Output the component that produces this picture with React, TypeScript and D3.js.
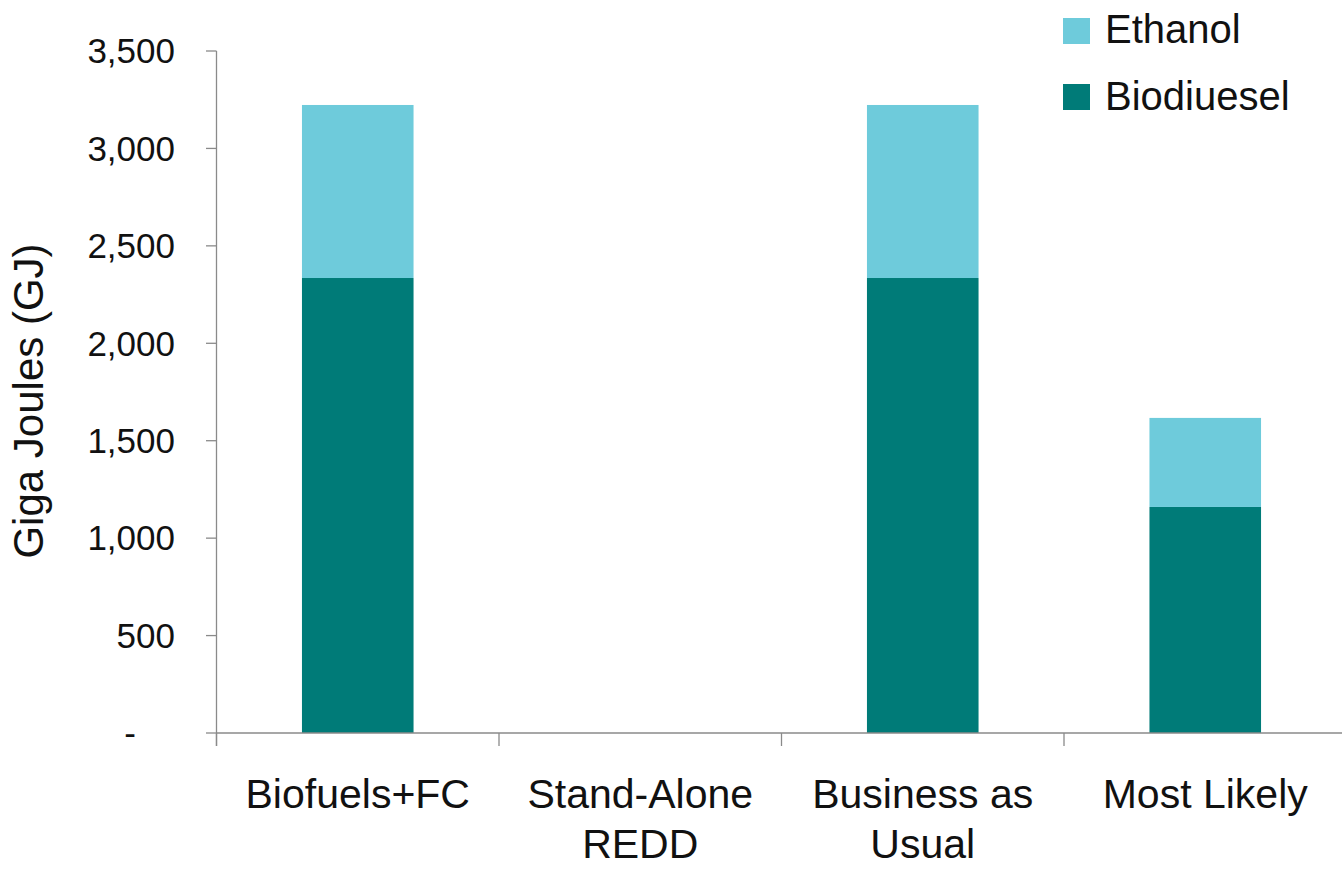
import React from "react";
import * as d3 from "d3";

const categories: string[][] = [
  ["Biofuels+FC"],
  ["Stand-Alone", "REDD"],
  ["Business as", "Usual"],
  ["Most Likely"],
];
const categoryKeys = ["Biofuels+FC", "Stand-Alone REDD", "Business as Usual", "Most Likely"];
const biodiesel = [2335, 0, 2335, 1160];
const ethanol = [888, 0, 888, 457];
const yTicks = [0, 500, 1000, 1500, 2000, 2500, 3000, 3500];
const yTickLabels = ["-", "500", "1,000", "1,500", "2,000", "2,500", "3,000", "3,500"];
const seriesNames = ["Ethanol", "Biodiuesel"];
const seriesColors = ["#6ECBDB", "#007B78"];

const W = 1342;
const H = 869;
const FONT = "'Liberation Sans', Arial, Helvetica, sans-serif";

export default function App() {
  const x = d3.scaleBand<string>().domain(categoryKeys).range([216.5, 1346.5]).paddingInner(0).paddingOuter(0);
  const y = d3.scaleLinear().domain([0, 3500]).range([733, 51]);
  const barW = x.bandwidth() * 0.395;
  const axisColor = "#8a8a8a";

  return (
    <svg width={W} height={H} style={{ position: "absolute", left: 0, top: 0, background: "#fff" }}>
      <rect x={0} y={0} width={W} height={H} fill="#fff" />
      {categoryKeys.map((k, i) => {
        const cx = (x(k) as number) + x.bandwidth() / 2;
        const b = biodiesel[i];
        const e = ethanol[i];
        return (
          <g key={k}>
            {b > 0 && (
              <rect x={cx - barW / 2} y={y(b)} width={barW} height={y(0) - y(b)} fill={seriesColors[1]} />
            )}
            {e > 0 && (
              <rect x={cx - barW / 2} y={y(b + e)} width={barW} height={y(b) - y(b + e)} fill={seriesColors[0]} />
            )}
          </g>
        );
      })}
      <line x1={216.5} x2={216.5} y1={y(3500)} y2={746} stroke={axisColor} strokeWidth={1.3} />
      {yTicks.map((t, i) => (
        <g key={t}>
          <line x1={206} x2={216.5} y1={y(t)} y2={y(t)} stroke={axisColor} strokeWidth={1.3} />
          <text
            x={t === 0 ? 136 : 175}
            y={y(t)}
            dy="0.35em"
            textAnchor="end"
            fontFamily={FONT}
            fontSize={35}
            fill="#111"
          >
            {yTickLabels[i]}
          </text>
        </g>
      ))}
      <line x1={216.5} x2={W} y1={y(0)} y2={y(0)} stroke={axisColor} strokeWidth={1.3} />
      {categoryKeys.map((k) => (
        <line key={k} x1={x(k) as number} x2={x(k) as number} y1={y(0)} y2={746} stroke={axisColor} strokeWidth={1.3} />
      ))}
      {categories.map((lines, i) => {
        const cx = (x(categoryKeys[i]) as number) + x.bandwidth() / 2;
        return (
          <text key={i} textAnchor="middle" fontFamily={FONT} fontSize={41} fill="#111">
            {lines.map((ln, j) => (
              <tspan key={j} x={cx} y={808 + j * 50}>
                {ln}
              </tspan>
            ))}
          </text>
        );
      })}
      <text
        transform={`translate(43, 401) rotate(-90)`}
        textAnchor="middle"
        fontFamily={FONT}
        fontSize={42}
        fill="#111"
      >
        Giga Joules (GJ)
      </text>
      {seriesNames.map((n, i) => (
        <g key={n}>
          <rect x={1063} y={18 + i * 66} width={27} height={26} fill={seriesColors[i]} />
          <text x={1105} y={43 + i * 67} fontFamily={FONT} fontSize={40} fill="#111">
            {n}
          </text>
        </g>
      ))}
    </svg>
  );
}
